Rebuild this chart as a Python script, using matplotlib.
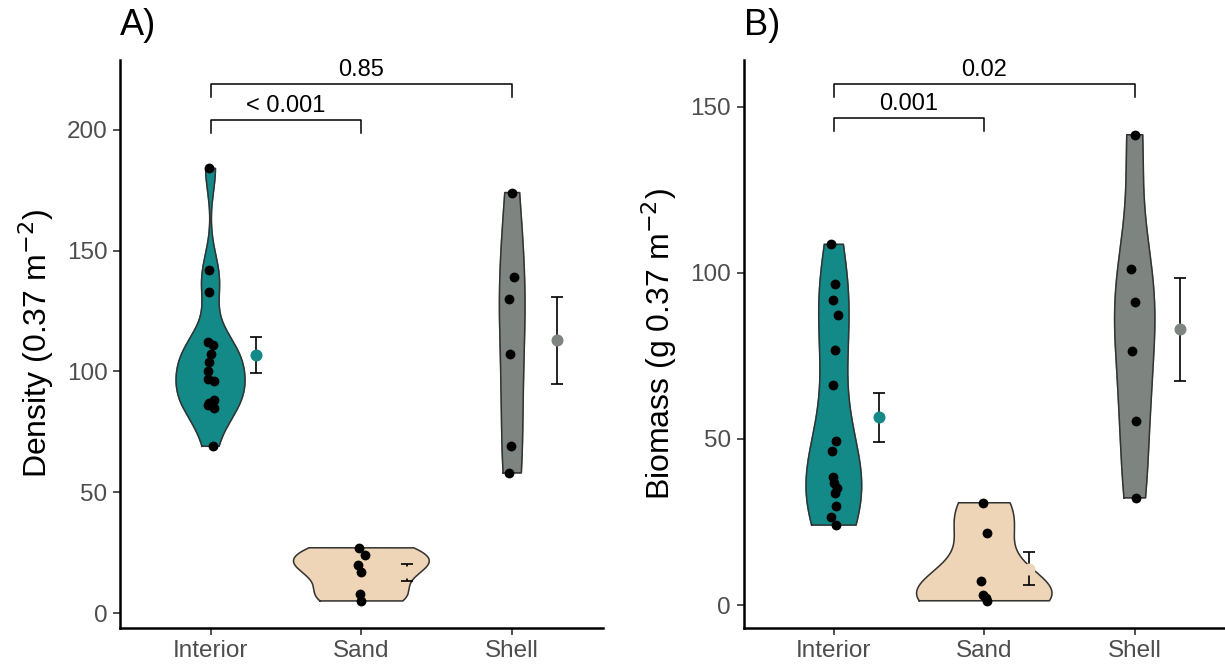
import numpy as np
import matplotlib
matplotlib.use('Agg')
import matplotlib.pyplot as plt

plt.rcParams['font.family'] = ['Liberation Sans', 'DejaVu Sans']

categories = ['Interior', 'Sand', 'Shell']
colors = ['#138A88', '#EED5B7', '#7E8581']

# panel A: density (0.37 m-2)
dens_interior = [184, 142, 133, 112, 111, 107, 104, 100, 97, 96, 88, 87, 86, 85, 69]
dens_sand = [27, 24, 20, 17, 8, 5]
dens_shell = [174, 139, 130, 107, 69, 58]
# panel B: biomass (g 0.37 m-2)
bio_interior = [108.6, 96.6, 91.9, 87.3, 76.8, 66.3, 49.4, 46.4, 38.6, 36.7, 35.1, 33.6, 29.8, 26.4, 24.1]
bio_sand = [30.8, 21.6, 7.3, 3.0, 2.0, 1.3]
bio_shell = [141.6, 101.2, 91.2, 76.5, 55.4, 32.3]

# small horizontal jitter (category units)
jit_dens = [
    [-0.007, -0.013, -0.007, -0.02, 0.013, 0.0, -0.013, -0.02, -0.02, 0.02, 0.026, -0.013, -0.02, 0.026, 0.013],
    [-0.013, 0.026, -0.02, 0.0, -0.007, 0.0],
    [0.0, 0.013, -0.02, -0.013, -0.007, -0.02],
]
jit_bio = [
    [-0.02, 0.007, -0.007, 0.026, 0.007, -0.007, 0.013, -0.013, -0.007, 0.0, 0.02, 0.007, 0.013, -0.02, 0.013],
    [-0.007, 0.02, -0.02, -0.007, 0.013, 0.02],
    [0.0, -0.026, 0.0, -0.02, 0.007, 0.007],
]

# significance brackets: (from, to, label)
brackets_a = [(1, 2, '< 0.001'), (1, 3, '0.85')]
brackets_b = [(1, 2, '0.001'), (1, 3, '0.02')]


def nrd0(x):
    x = np.asarray(x, float)
    sd = x.std(ddof=1)
    q75, q25 = np.percentile(x, [75, 25])
    lo = min(sd, (q75 - q25) / 1.34)
    if lo == 0:
        lo = sd
    return 0.9 * lo * len(x) ** (-0.2)


def kde(x):
    x = np.asarray(x, float)
    bw = nrd0(x)
    grid = np.linspace(x.min(), x.max(), 512)
    z = (grid[:, None] - x[None, :]) / bw
    d = np.exp(-0.5 * z ** 2).sum(axis=1) / (len(x) * bw * np.sqrt(2 * np.pi))
    return grid, d


def panel(ax, groups, jitters, brackets, ylabel, ylim, yticks, title, br_y):
    kdes = [kde(g) for g in groups]
    dmax = max(d.max() for _, d in kdes)
    for i, ((grid, d), g, jit) in enumerate(zip(kdes, groups, jitters)):
        pos = i + 1
        w = 0.45 * d / dmax
        xs = np.concatenate([pos - w, (pos + w)[::-1], [pos - w[0]]])
        ys = np.concatenate([grid, grid[::-1], [grid[0]]])
        ax.fill(xs, ys, color=colors[i], zorder=2)
        ax.plot(xs, ys, color='#333333', lw=1.1, zorder=3)
        ax.scatter(pos + np.array(jit), g, s=50, color='black', zorder=4, linewidths=0)
        m = np.mean(g)
        se = np.std(g, ddof=1) / np.sqrt(len(g))
        ax.errorbar(pos + 0.3, m, yerr=se, fmt='none', ecolor='black', elinewidth=1.2,
                    capsize=4, capthick=1.2, zorder=4)
        ax.scatter(pos + 0.3, m, s=75, color=colors[i], zorder=6, linewidths=0)

    # brackets
    for (a, b, lab), (yb, tick) in zip(brackets, br_y):
        ax.plot([a, a, b, b], [yb - tick, yb, yb, yb - tick], color='black', lw=1.1, zorder=3)
        ax.text((a + b) / 2, yb + tick * 0.25, lab, ha='center', va='bottom', fontsize=17)

    ax.set_xlim(0.4, 3.6)
    ax.set_ylim(*ylim)
    ax.set_xticks([1, 2, 3])
    ax.set_xticklabels(categories)
    ax.set_yticks(yticks)
    ax.tick_params(axis='both', labelsize=17.5, labelcolor='#4D4D4D', color='#333333',
                   length=5, width=1.2, pad=4)
    for s in ['top', 'right']:
        ax.spines[s].set_visible(False)
    for s in ['left', 'bottom']:
        ax.spines[s].set_linewidth(1.8)
        ax.spines[s].set_color('black')
    ax.set_ylabel(ylabel, fontsize=23, labelpad=8)
    ax.set_title(title, loc='left', fontsize=26, x=0.0, pad=18)


fig = plt.figure(figsize=(12.25, 6.67), dpi=100)
ax1 = fig.add_axes([0.098, 0.0585, 0.394, 0.852])
ax2 = fig.add_axes([0.607, 0.0585, 0.393, 0.852])

panel(ax1, [dens_interior, dens_sand, dens_shell], jit_dens, brackets_a,
      r'Density (0.37 m$^{-2}$)', (-6.2, 229), [0, 50, 100, 150, 200], 'A)',
      [(204, 5.4), (219, 5.4)])
panel(ax2, [bio_interior, bio_sand, bio_shell], jit_bio, brackets_b,
      r'Biomass (g 0.37 m$^{-2}$)', (-6.9, 164.2), [0, 50, 100, 150], 'B)',
      [(146.7, 3.9), (156.9, 3.9)])

fig.savefig('out.png', dpi=100)
